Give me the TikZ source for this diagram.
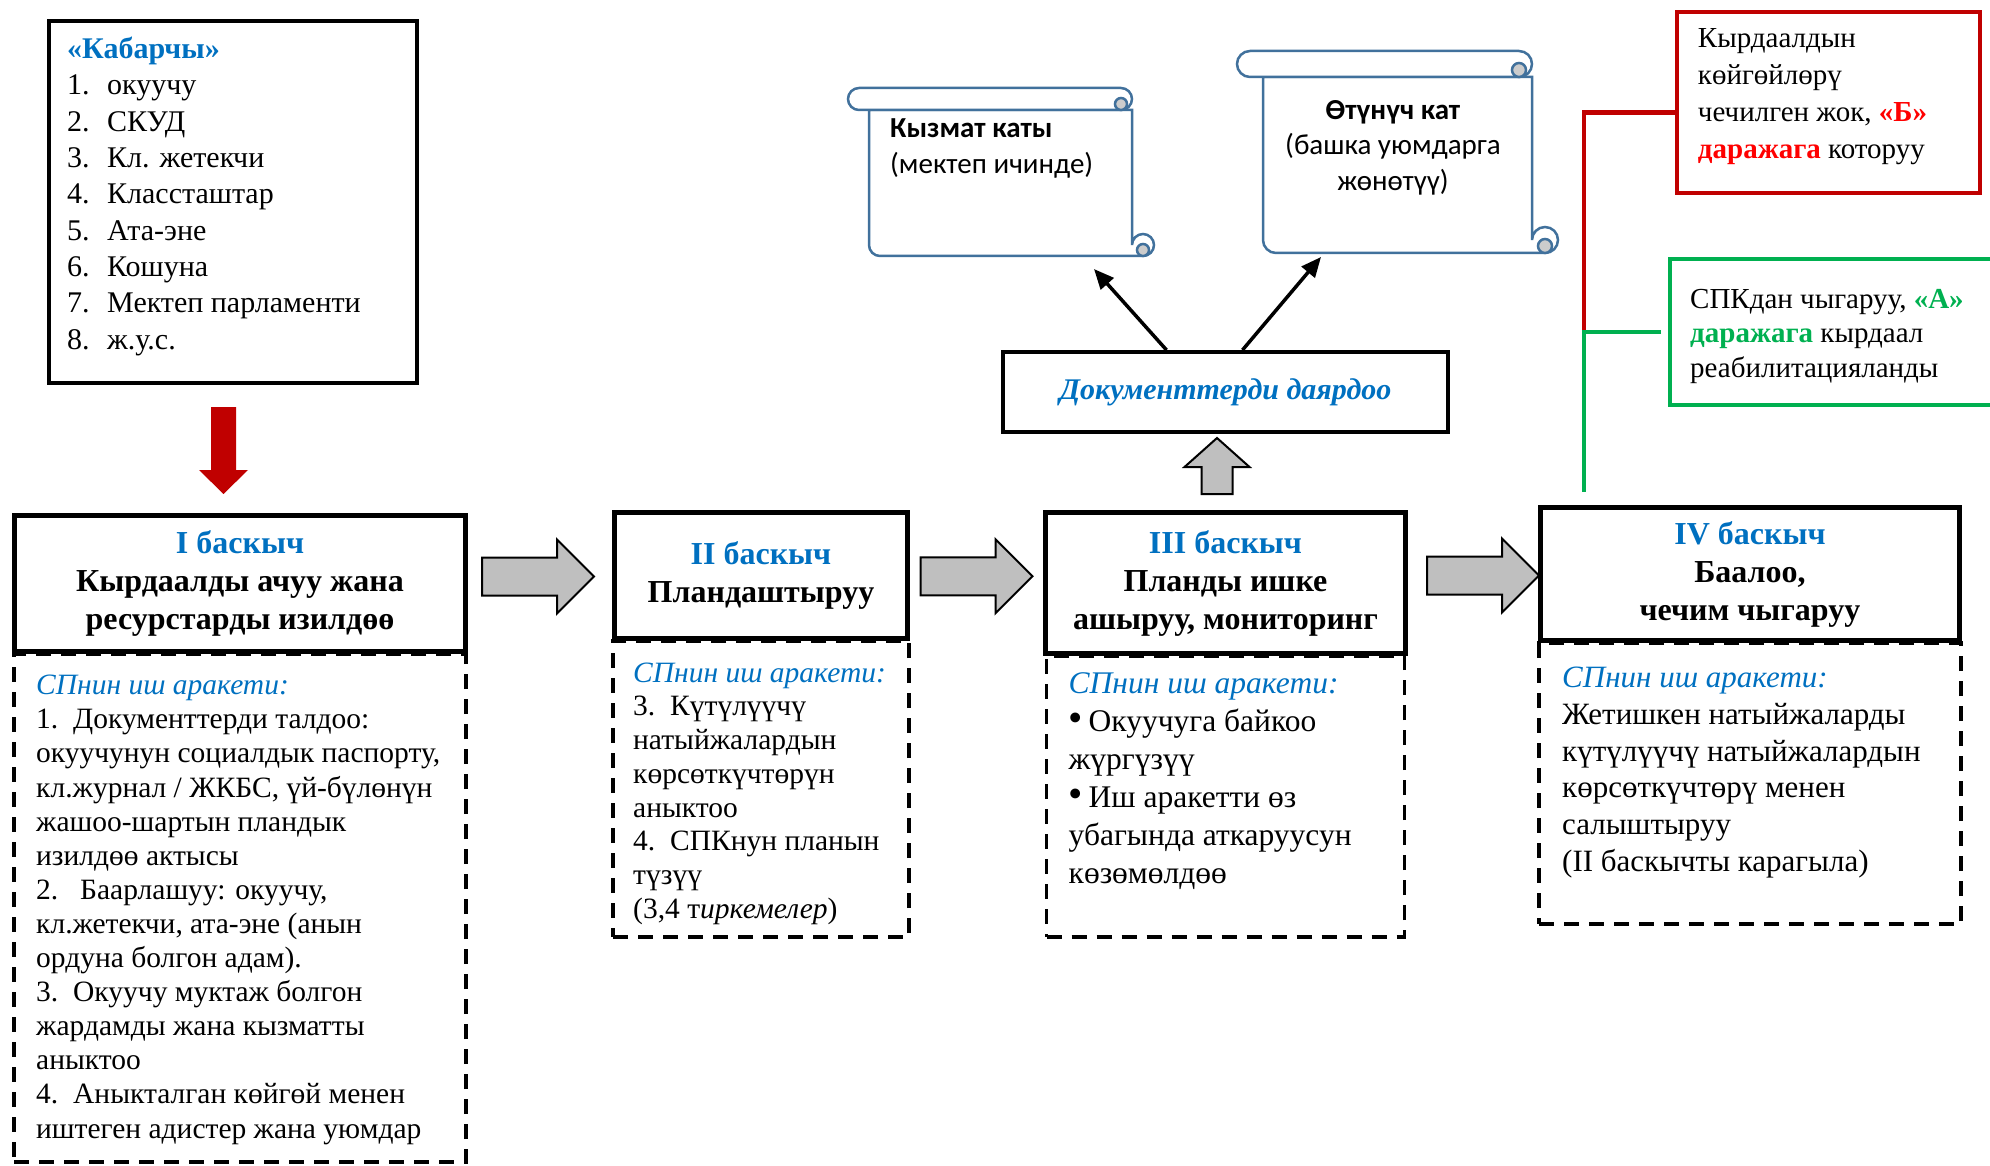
\documentclass[tikz,border=0pt]{standalone}
\usepackage{fontspec}
\usepackage{graphicx}
\setmainfont{Liberation Serif}
\newfontfamily\calibri{Carlito}
\usetikzlibrary{calc}
\usetikzlibrary{arrows.meta}
\definecolor{stageblue}{HTML}{0070C0}
\definecolor{darkred}{HTML}{C00000}
\definecolor{brightred}{HTML}{FF0000}
\definecolor{okgreen}{HTML}{00B050}
\definecolor{scrollblue}{HTML}{41719C}
\definecolor{arrowgray}{HTML}{BFBFBF}

\begin{document}
\begin{tikzpicture}[x=1pt, y=-1pt,
    stage/.style={draw, line width=5pt, align=center, inner sep=0pt,
      font=\fontsize{32}{38}\selectfont\bfseries},
    acts/.style={draw, dash pattern=on 15pt off 10pt, line width=3.5pt,
      inner sep=0pt, outer sep=0pt, anchor=north},
    txt/.style={anchor=north west, align=left, inner sep=0pt},
    blockarrow/.style={draw, fill=arrowgray, line width=2pt, line join=miter},
    scroll/.style={draw=scrollblue, fill=white, line width=2.5pt},
    ptr/.style={line width=3.5pt, -{Triangle[length=20pt,width=17pt]}}]
    \useasboundingbox (0,0) rectangle (1990,1166);

    % informants
    \node[draw, line width=4pt, minimum width=368pt, minimum height=362pt] (kab) at (233,202) {};
    \node[txt, font=\fontsize{30}{36.3}\selectfont] (kabtext) at ([xshift=20pt,yshift=-18pt]kab.north west)
      {\textcolor{stageblue}{\textbf{«Кабарчы»}}\\
       \makebox[40pt][l]{1.}окуучу\\
       \makebox[40pt][l]{2.}СКУД\\
       \makebox[40pt][l]{3.}Кл. жетекчи\\
       \makebox[40pt][l]{4.}Классташтар\\
       \makebox[40pt][l]{5.}Ата-эне\\
       \makebox[40pt][l]{6.}Кошуна\\
       \makebox[40pt][l]{7.}Мектеп парламенти\\
       \makebox[40pt][l]{8.}ж.у.с.};

    % stages
    \node[stage, minimum width=451pt, minimum height=136pt] (s1) at (240,583.5)
      {\textcolor{stageblue}{I баскыч}\\ Кырдаалды ачуу жана\\ ресурстарды изилдөө};
    \node[stage, minimum width=293pt, minimum height=126pt] (s2) at (761,575.5)
      {\textcolor{stageblue}{II баскыч}\\ Пландаштыруу};
    \node[stage, minimum width=360pt, minimum height=141pt] (s3) at (1225.5,583)
      {\textcolor{stageblue}{III баскыч}\\ Планды ишке\\ ашыруу, мониторинг};
    \node[stage, minimum width=419pt, minimum height=133pt] (s4) at (1750,574)
      {\textcolor{stageblue}{IV баскыч}\\ Баалоо,\\ чечим чыгаруу};

    % dashed boxes with actions
    \node[acts, minimum width=452pt, minimum height=508pt] (a1) at (s1.south) {};
    \node[acts, minimum width=296pt, minimum height=296pt] (a2) at (s2.south) {};
    \node[acts, minimum width=358pt, minimum height=281pt] (a3) at (s3.south) {};
    \node[acts, minimum width=422pt, minimum height=281pt] (a4) at (s4.south) {};

    \node[txt, font=\fontsize{29.5}{34.1}\selectfont] (t1) at ([xshift=22pt,yshift=-21pt]a1.north west)
      {\textcolor{stageblue}{\textit{СПнин иш аракети:}}\\
       \makebox[37pt][l]{1.}Документтерди талдоо:\\
       окуучунун социалдык паспорту,\\
       кл.журнал / ЖКБС, үй-бүлөнүн\\
       жашоо-шартын пландык\\
       изилдөө актысы\\
       \makebox[44pt][l]{2.}Баарлашуу: окуучу,\\
       кл.жетекчи, ата-эне (анын\\
       ордуна болгон адам).\\
       \makebox[37pt][l]{3.}Окуучу муктаж болгон\\
       жардамды жана кызматты\\
       аныктоо\\
       \makebox[37pt][l]{4.}Аныкталган көйгөй менен\\
       иштеген адистер жана уюмдар};
    \node[txt, font=\fontsize{29.5}{33.7}\selectfont] (t2) at ([xshift=20pt,yshift=-21.5pt]a2.north west)
      {\textcolor{stageblue}{\textit{СПнин иш аракети:}}\\
       \makebox[37pt][l]{3.}Күтүлүүчү\\
       натыйжалардын\\
       көрсөткүчтөрүн\\
       аныктоо\\
       \makebox[37pt][l]{4.}СПКнун планын\\
       түзүү\\
       (3,4 т\textit{иркемелер})};
    \node[txt, font=\fontsize{31.5}{38}\selectfont] (t3) at ([xshift=22pt,yshift=-16.5pt]a3.north west)
      {\textcolor{stageblue}{\textit{СПнин иш аракети:}}\\
       \makebox[20pt][l]{\scalebox{1.3}{\textbullet}}Окуучуга байкоо\\
       жүргүзүү\\
       \makebox[20pt][l]{\scalebox{1.3}{\textbullet}}Иш аракетти өз\\
       убагында аткаруусун\\
       көзөмөлдөө};
    \node[txt, font=\fontsize{31}{36.8}\selectfont] (t4) at ([xshift=23pt,yshift=-23.7pt]a4.north west)
      {\textcolor{stageblue}{\textit{СПнин иш аракети:}}\\
       Жетишкен натыйжаларды\\
       күтүлүүчү натыйжалардын\\
       көрсөткүчтөрү менен\\
       салыштыруу\\
       (II баскычты карагыла)};

    % block arrows between stages
    \fill[darkred] ($(kab.south)!0.5!(s1.north)$) ++(-25.5,-42) -- ++(25,0) -- ++(0,63)
      -- ++(12,0) -- ++(-24.5,24) -- ++(-24.5,-24) -- ++(12,0) -- cycle;
    \foreach \a/\b/\dx in {s1/s2/-2, s2/s3/0, s3/s4/10}
      \draw[blockarrow] ($(\a.east)!0.5!(\b.west)$) ++(\dx-56,-22) -- ++(75,0) -- ++(0,-18)
        -- ++(37,37) -- ++(-37,37) -- ++(0,-18) -- ++(-75,0) -- cycle;

    % documents
    \node[draw, line width=4pt, minimum width=445pt, minimum height=80pt,
      font=\fontsize{30}{38}\selectfont\bfseries\itshape, text=stageblue] (doc) at (1225.5,392)
      {\raisebox{-3pt}{Документтерди даярдоо}};
    \draw[blockarrow] ($(doc.south)!0.5!(s3.north)$) ++(-24,22) -- ++(0,-27) -- ++(-17,0)
      -- ++(32.5,-29) -- ++(32.5,29) -- ++(-17,0) -- ++(0,27) -- cycle;

    % scrolls
    \draw[scroll] (869,110) -- (869,245) arc(180:270:11pt) -- (1143,256) arc(-90:180:11pt) -- (1132,110) -- cycle;
    \draw[scroll] (859,88) -- (1121,88) arc(90:-90:11pt) -- (859,110) arc(270:90:11pt) -- cycle;
    \filldraw[scroll, fill=gray!40] (1121,104) circle(6pt);
    \filldraw[scroll, fill=gray!40] (1143,250) circle(6pt);
    \draw[scroll] (1263,77) -- (1263,240) arc(180:270:13pt) -- (1545,253) arc(-90:180:13pt) -- (1532,77) -- cycle;
    \draw[scroll] (1250,51) -- (1519,51) arc(90:-90:13pt) -- (1250,77) arc(270:90:13pt) -- cycle;
    \filldraw[scroll, fill=gray!40] (1519,70) circle(7pt);
    \filldraw[scroll, fill=gray!40] (1545,246) circle(7pt);

    \node[txt, font=\calibri\fontsize{29}{36}\selectfont] (memo) at (890,118)
      {\textbf{Кызмат каты}\\ (мектеп ичинде)};
    \node[inner sep=0pt, anchor=north, align=center, font=\calibri\fontsize{29}{35.5}\selectfont] (petition) at (1393,100)
      {\textbf{Өтүнүч кат}\\ (башка уюмдарга\\ жөнөтүү)};

    \coordinate (tipA) at (1094,269);
    \coordinate (tipB) at (1321,257);
    \draw[ptr] ([xshift=-59pt]doc.north) -- (tipA);
    \draw[ptr] ([xshift=17pt]doc.north) -- (tipB);

    % outcomes
    \node[draw=darkred, line width=4.5pt, minimum width=303pt, minimum height=181pt] (rbox) at (1828.5,102.5) {};
    \node[txt, font=\fontsize{29}{36.8}\selectfont] (rtext) at ([xshift=23pt,yshift=-19pt]rbox.north west)
      {Кырдаалдын\\ көйгөйлөрү\\ чечилген жок, \textcolor{brightred}{\textbf{«Б»}}\\
       \textcolor{brightred}{\textbf{даражага}} которуу};
    \node[outer sep=0pt, minimum width=320pt, minimum height=145.5pt] (gbox) at (1830,332) {};
    \draw[okgreen, line width=4.5pt] (gbox.north east) -- (gbox.north west) -- (gbox.south west) -- (gbox.south east);
    \node[txt, font=\fontsize{29}{34.3}\selectfont] (gtext) at ([xshift=20pt,yshift=-30pt]gbox.north west)
      {СПКдан чыгаруу, \textcolor{okgreen}{\textbf{«А»}}\\
       \textcolor{okgreen}{\textbf{даражага}} кырдаал\\ реабилитацияланды};

    \coordinate (rj) at (1584,347);
    \coordinate (gj) at (1584,492);
    \draw[darkred, line width=4.5pt] ([yshift=-10pt]rbox.west) -| (rj);
    \draw[okgreen, line width=4.5pt] ([xshift=-9pt]gbox.west) -| (gj);
\end{tikzpicture}
\end{document}
